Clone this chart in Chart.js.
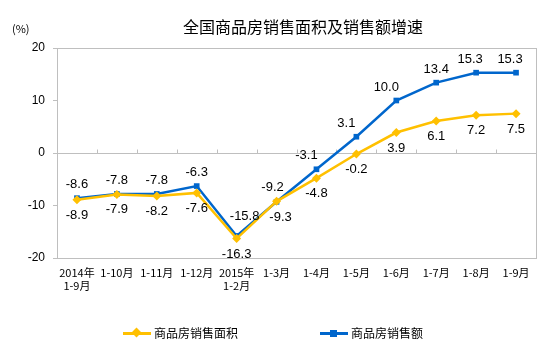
<!DOCTYPE html>
<html>
<head>
<meta charset="utf-8">
<script src="https://cdn.jsdelivr.net/npm/chart.js@4"></script>
<style>
  body { margin: 0; background: #fff; }
  #wrap { position: relative; width: 554px; height: 353px; font-family: "Noto Sans CJK SC", sans-serif; }
  #chart { position: absolute; left: 0; top: 0; }
  .title { position: absolute; left: 183px; top: 14px; width: 240px; text-align: center; font-size: 16px; color: #000; white-space: nowrap; }
  .unit { position: absolute; left: 12px; top: 20px; font-size: 11px; color: #000; }
  .leg { position: absolute; top: 324px; font-size: 12px; color: #000; white-space: nowrap; height: 18px; line-height: 18px; }
  .leg i { position: absolute; top: 8px; left: 0; width: 28px; height: 3px; }
  .leg b { position: absolute; }
  .leg span { margin-left: 31px; }
</style>
</head>
<body>
<div id="wrap">
  <canvas id="chart" width="554" height="353"></canvas>
  <div class="unit">(%)</div>
  <div class="title">全国商品房销售面积及销售额增速</div>
  <div class="leg" style="left:123px">
    <i style="background:#FFC000"></i>
    <b style="left:10px;top:5px;width:7px;height:7px;background:#FFC000;transform:rotate(45deg)"></b>
    <span>商品房销售面积</span>
  </div>
  <div class="leg" style="left:320px">
    <i style="background:#0066CC"></i>
    <b style="left:10px;top:6px;width:7px;height:7px;background:#0066CC"></b>
    <span>商品房销售额</span>
  </div>
</div>
<script>
const categories = [
  ['2014年', '1-9月'], '1-10月', '1-11月', '1-12月', ['2015年', '1-2月'],
  '1-3月', '1-4月', '1-5月', '1-6月', '1-7月', '1-8月', '1-9月'
];
const salesArea = [-8.9, -7.9, -8.2, -7.6, -16.3, -9.2, -4.8, -0.2, 3.9, 6.1, 7.2, 7.5];
const salesValue = [-8.6, -7.8, -7.8, -6.3, -15.8, -9.3, -3.1, 3.1, 10.0, 13.4, 15.3, 15.3];
const yTicks = [-20, -10, 0, 10, 20];

const YELLOW = '#FFC000';
const BLUE = '#0066CC';
const GRAY = '#BFBFBF';

// box, zero line with small ticks, and the value labels
const decor = {
  id: 'decor',
  beforeDatasetsDraw(chart) {
    const { ctx, chartArea: a, scales: { x, y } } = chart;
    ctx.save();
    ctx.strokeStyle = GRAY;
    ctx.lineWidth = 1;
    ctx.strokeRect(a.left + 0.5, a.top + 0.5, a.right - a.left, a.bottom - a.top);
    const y0 = Math.round(y.getPixelForValue(0)) + 0.5;
    ctx.beginPath();
    ctx.moveTo(a.left, y0);
    ctx.lineTo(a.right, y0);
    const half = (x.getPixelForValue(1) - x.getPixelForValue(0)) / 2;
    for (let i = 1; i < categories.length; i++) {
      const px = Math.round(x.getPixelForValue(i) - half) + 0.5;
      ctx.moveTo(px, y0);
      ctx.lineTo(px, y0 - 4);
    }
    ctx.stroke();
    ctx.restore();
  },
  afterDatasetsDraw(chart) {
    const { ctx } = chart;
    ctx.save();
    ctx.font = '13px "Liberation Sans", Arial, sans-serif';
    ctx.fillStyle = '#000';
    ctx.textAlign = 'center';
    chart.data.datasets.forEach((ds, di) => {
      const other = chart.data.datasets[1 - di].data;
      const meta = chart.getDatasetMeta(di);
      meta.data.forEach((pt, i) => {
        const v = ds.data[i];
        const above = v >= other[i];
        let dx = 0;
        let lift = 10;
        if (above && di === 1 && i >= 6 && i <= 8) dx = -10;
        if (above && i >= 10) dx = -6;
        if (above && i === 4) { dx = 8; lift = 16; }
        if (above && i === 5) dx = -4;
        if (!above && i === 5) dx = 4;
        const ty = above ? pt.y - lift : pt.y + 19;
        ctx.fillText(v.toFixed(1), pt.x + dx, ty);
      });
    });
    ctx.restore();
  }
};

new Chart(document.getElementById('chart'), {
  type: 'line',
  data: {
    labels: categories,
    datasets: [{
      label: '商品房销售面积',
      data: salesArea,
      borderColor: YELLOW,
      backgroundColor: YELLOW,
      borderWidth: 2.5,
      pointStyle: 'rectRot',
      pointRadius: 4.5,
      pointBorderWidth: 0,
      tension: 0
    }, {
      label: '商品房销售额',
      data: salesValue,
      borderColor: BLUE,
      backgroundColor: BLUE,
      borderWidth: 2.5,
      pointStyle: 'rect',
      pointRadius: 4,
      pointBorderWidth: 0,
      tension: 0
    }]
  },
  options: {
    responsive: false,
    animation: false,
    layout: { padding: { top: 48, left: 0, right: 18, bottom: 55 } },
    scales: {
      x: {
        offset: true,
        grid: { display: false },
        border: { display: false },
        ticks: {
          color: '#000',
          font: { family: '"Noto Sans CJK SC", sans-serif', size: 11 },
          maxRotation: 0,
          autoSkip: false,
          padding: 0
        },
        afterFit(s) { s.height = 40; }
      },
      y: {
        min: -20,
        max: 20,
        afterBuildTicks(s) { s.ticks = yTicks.map(v => ({ value: v })); },
        grid: { drawOnChartArea: false, drawTicks: true, tickLength: 4, color: GRAY },
        border: { display: true, color: GRAY },
        ticks: {
          color: '#000',
          font: { family: '"Liberation Sans", Arial, sans-serif', size: 12 },
          padding: 8
        },
        afterFit(s) { s.width = 57; }
      }
    },
    plugins: {
      legend: { display: false },
      tooltip: { enabled: false }
    }
  },
  plugins: [decor]
});
</script>
</body>
</html>
